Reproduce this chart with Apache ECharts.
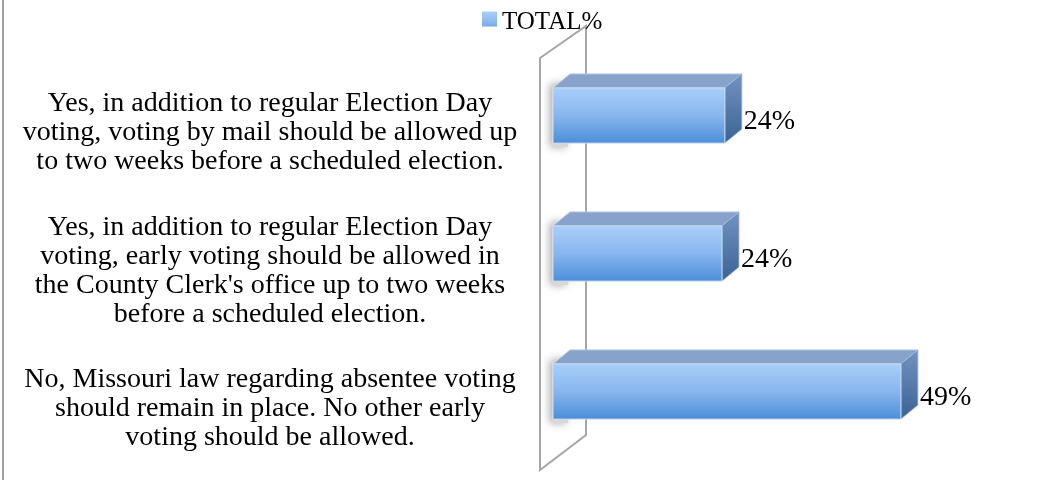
<!DOCTYPE html>
<html>
<head>
<meta charset="utf-8">
<style>
  html, body { margin: 0; padding: 0; background: #ffffff; }
  #chart { width: 1047px; height: 480px; }
</style>
<script src="https://cdn.jsdelivr.net/npm/echarts@6/dist/echarts.min.js"></script>
</head>
<body>
<div id="chart"></div>
<script>
// ---- data ----
const categories = [
  "Yes, in addition to regular Election Day\nvoting, voting by mail should be allowed up\nto two weeks before a scheduled election.",
  "Yes, in addition to regular Election Day\nvoting, early voting should be allowed in\nthe County Clerk's office up to two weeks\nbefore a scheduled election.",
  "No, Missouri law regarding absentee voting\nshould remain in place. No other early\nvoting should be allowed."
];
const totalPct = [24.2, 23.8, 49.0];
const seriesName = "TOTAL%";

// ---- style ----
const FONT = "Liberation Serif";
const DX = 17, DY = -14;
const frontGrad = new echarts.graphic.LinearGradient(0, 0, 0, 1, [
  { offset: 0, color: "#a9cff9" },
  { offset: 0.5, color: "#88b6ee" },
  { offset: 1, color: "#4b8dd9" }
]);
const sideGrad = new echarts.graphic.LinearGradient(0, 0, 0, 1, [
  { offset: 0, color: "#7393c2" },
  { offset: 1, color: "#3a6394" }
]);

const chart = echarts.init(document.getElementById("chart"), null, { renderer: "canvas" });

const option = {
  backgroundColor: "#ffffff",
  animation: false,
  legend: {
    data: [seriesName],
    left: 477,
    top: 5,
    itemWidth: 15,
    itemHeight: 22,
    itemGap: 5,
    icon: "path://M0,0L15,0L15,15L0,15Z M0,22L15,22",
    textStyle: { fontFamily: FONT, fontSize: 25, lineHeight: 25, color: "#000000" }
  },
  grid: [
    { left: 553, right: 68, top: 46.5, bottom: 19.5, containLabel: false },
    { left: 553, right: 68, top: 64, bottom: 2, containLabel: false }
  ],
  xAxis: [
    { type: "value", min: 0, max: 60, show: false, gridIndex: 0 },
    { type: "value", min: 0, max: 60, show: false, gridIndex: 1 }
  ],
  yAxis: [
    {
      type: "category", inverse: true, data: categories, gridIndex: 0,
      axisLine: { show: false }, axisTick: { show: false }, splitLine: { show: false },
      axisLabel: { show: false }
    },
    {
      type: "category", inverse: true, data: categories, gridIndex: 1,
      axisLine: { show: false }, axisTick: { show: false }, splitLine: { show: false },
      axisLabel: {
        margin: 283,
        align: "center",
        fontFamily: FONT,
        fontSize: 28,
        lineHeight: 29,
        color: "#000000"
      }
    }
  ],
  graphic: [
    { type: "line", shape: { x1: 3, y1: 0, x2: 3, y2: 480 }, style: { stroke: "#a0a0a0", lineWidth: 2 } }
  ],
  series: [
    {
      type: "custom",
      name: "wall",
      silent: true,
      z: 1,
      xAxisIndex: 0, yAxisIndex: 0,
      data: [[0, 0]],
      encode: { x: 0, y: 1 },
      renderItem: function (params, api) {
        const cs = params.coordSys;
        const x0 = cs.x, top = cs.y, bottom = cs.y + cs.height;
        return {
          type: "polygon",
          shape: { points: [
            [x0 - 13, top + 11.5], [x0 + 33, top - 20.5],
            [x0 + 33, bottom - 25.5], [x0 - 13, bottom + 9.5]
          ] },
          style: { fill: "rgba(255,255,255,0)", stroke: "#a6a6a6", lineWidth: 2 }
        };
      }
    },
    {
      type: "custom",
      name: seriesName,
      z: 3,
      xAxisIndex: 0, yAxisIndex: 0,
      itemStyle: { color: frontGrad },
      data: totalPct.map(function (v, i) { return [v, i]; }),
      encode: { x: 0, y: 1 },
      renderItem: function (params, api) {
        const v = api.value(0), c = api.value(1);
        const s = api.coord([0, c]);
        const e = api.coord([v, c]);
        const h = api.size([0, 1])[1] * 0.4;
        const x0 = s[0], x1 = e[0], y0 = s[1] - h / 2;
        return {
          type: "group",
          children: [
            { type: "rect", shape: { x: x0 - 1, y: y0 - 4, width: 16, height: h + 8 },
              style: { fill: "#d8d8d8", shadowBlur: 8, shadowColor: "rgba(0,0,0,0.35)", shadowOffsetX: -2 } },
            { type: "polygon", shape: { points: [[x0, y0], [x0 + DX, y0 + DY], [x1 + DX, y0 + DY], [x1, y0]] },
              style: { fill: "#87a3cc", stroke: "#b9cbe3", lineWidth: 1 } },
            { type: "polygon", shape: { points: [[x1, y0], [x1 + DX, y0 + DY], [x1 + DX, y0 + h + DY], [x1, y0 + h]] },
              style: { fill: sideGrad, stroke: "#9fb4d2", lineWidth: 0.8 } },
            { type: "rect", shape: { x: x0, y: y0, width: x1 - x0, height: h },
              style: { fill: frontGrad, stroke: "#c9daf0", lineWidth: 1 } },
            { type: "text", x: x1 + 19, y: s[1] + 6,
              style: { text: Math.round(v) + "%", fontFamily: FONT, fontSize: 28, fill: "#000000",
                       align: "left", verticalAlign: "middle" } }
          ]
        };
      }
    }
  ]
};
chart.setOption(option);
</script>
</body>
</html>
